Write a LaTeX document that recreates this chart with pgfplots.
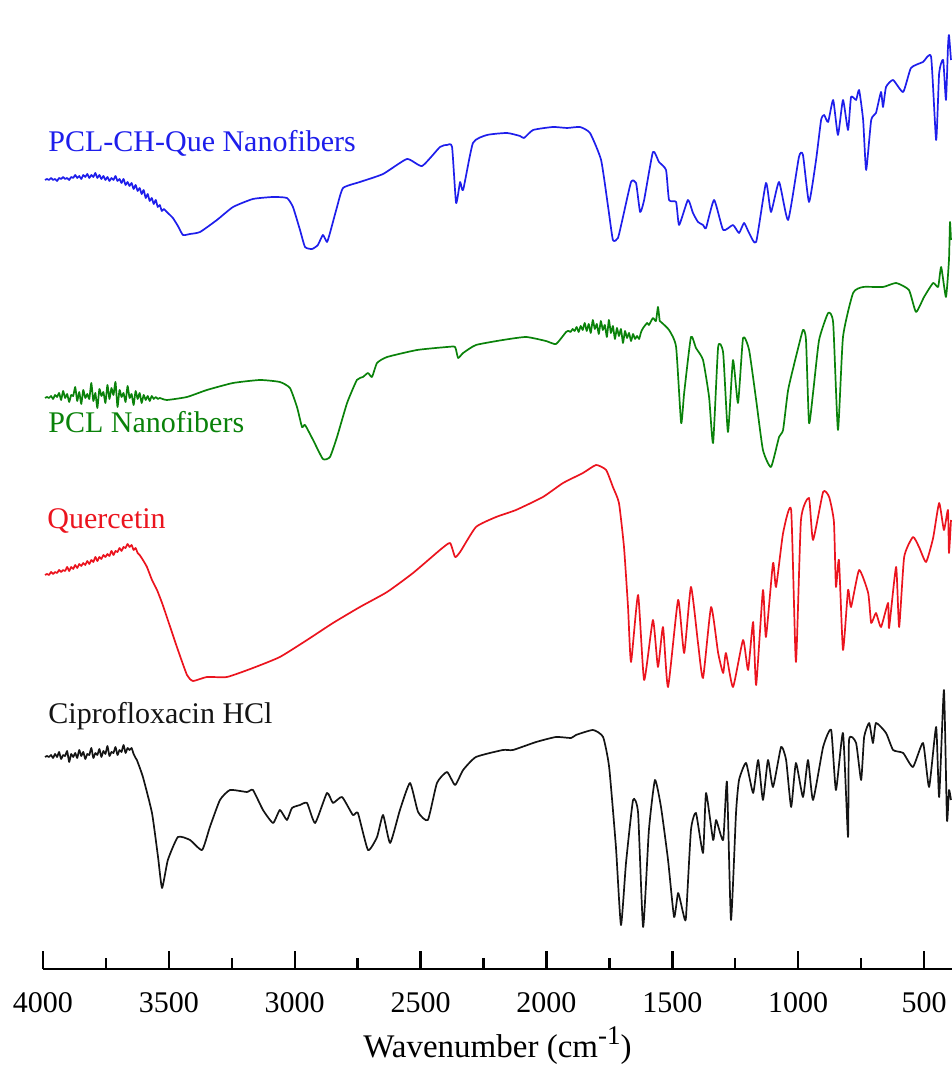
\documentclass[border=0pt]{standalone}
\usepackage{pgfplots}
\pgfplotsset{compat=1.18}
\usepackage{fontspec}
\setmainfont{Liberation Serif}

\definecolor{queC}{RGB}{30,30,235}
\definecolor{pclC}{RGB}{10,130,10}
\definecolor{querC}{RGB}{235,20,30}
\definecolor{cipC}{RGB}{20,20,20}

% FTIR spectra, stacked with vertical offsets (arbitrary transmittance units)
\pgfplotstableread{
w y
3992 789
3984 790
3976 789
3968 791
3960 789
3952 790
3944 788
3936 791
3928 790
3920 792
3912 790
3904 791
3896 789
3888 792
3880 791
3872 794
3864 791
3856 793
3848 790
3840 794
3832 792
3824 795
3816 791
3808 794
3800 792
3792 796
3784 791
3776 794
3768 790
3760 793
3752 789
3744 792
3736 788
3728 791
3720 789
3712 793
3704 788
3696 790
3688 786
3680 790
3672 784
3664 787
3656 783
3648 786
3640 780
3632 784
3624 778
3616 781
3608 775
3600 779
3592 771
3584 775
3576 768
3568 771
3560 765
3552 769
3544 762
3536 764
3528 758
3520 760
3508 757
3484 751
3464 743
3444 734
3416 735
3376 737
3309 749
3245 762
3166 770
3086 772
3031 771
3007 762
2979 739
2959 722
2931 720
2908 724
2888 734
2872 727
2860 736
2832 762
2808 781
2741 787
2649 795
2554 810
2494 803
2423 822
2395 824
2375 822
2359 766
2343 787
2331 779
2292 826
2236 834
2157 836
2105 833
2089 831
2053 839
1974 842
1918 841
1867 842
1827 836
1783 809
1755 762
1736 729
1716 731
1696 752
1664 787
1644 786
1628 757
1612 769
1577 817
1553 807
1525 799
1513 769
1485 767
1473 744
1438 769
1418 756
1398 747
1378 744
1366 741
1334 769
1298 739
1259 744
1235 736
1215 746
1195 736
1167 727
1128 786
1108 757
1076 787
1040 749
997 812
981 814
957 767
929 809
909 849
897 854
881 847
861 869
842 834
822 869
802 839
790 872
770 869
758 879
742 849
730 799
710 849
691 856
671 877
663 862
651 882
623 889
583 877
552 901
504 907
472 912
452 829
440 896
424 909
413 869
405 922
401 934
393 909
}\queTable

\pgfplotstableread{
w y
3992 571
3984 572
3976 571
3968 573
3960 570
3952 574
3944 572
3936 576
3928 569
3920 578
3912 571
3904 575
3896 567
3888 574
3880 573
3872 582
3864 568
3856 577
3848 565
3840 579
3832 571
3824 575
3816 570
3808 586
3800 568
3792 576
3784 561
3776 580
3768 573
3760 577
3752 566
3744 584
3736 570
3728 581
3720 574
3712 587
3704 562
3696 579
3688 572
3680 576
3672 567
3664 583
3656 571
3648 575
3640 564
3632 578
3624 570
3616 576
3608 566
3600 574
3592 569
3584 573
3576 568
3568 573
3560 570
3552 572
3544 570
3536 571
3508 569
3428 572
3349 579
3245 586
3138 589
3059 587
3019 581
2991 562
2971 542
2959 544
2927 529
2888 510
2860 512
2832 532
2792 566
2753 589
2729 592
2709 596
2693 592
2673 606
2633 612
2514 619
2395 622
2363 622
2351 611
2331 616
2280 624
2173 629
2081 632
2002 628
1962 625
1922 637
1912 638
1904 637
1896 640
1888 638
1880 642
1872 637
1864 643
1856 639
1848 646
1840 638
1832 645
1824 636
1816 649
1808 640
1800 645
1792 635
1784 648
1776 639
1768 644
1760 632
1752 649
1744 636
1736 643
1728 630
1720 641
1712 633
1704 640
1696 626
1688 638
1680 631
1672 636
1664 628
1656 635
1648 630
1640 633
1632 630
1624 637
1616 641
1600 646
1593 644
1577 651
1565 648
1557 662
1550 648
1545 647
1513 639
1485 622
1465 546
1453 576
1426 632
1406 621
1378 609
1354 572
1338 526
1318 622
1298 616
1279 537
1259 609
1239 566
1219 631
1195 619
1167 569
1140 519
1108 502
1076 532
1060 539
1040 579
1009 612
981 639
969 629
957 546
941 576
917 629
881 656
861 646
842 539
822 632
782 676
742 682
663 682
611 686
560 679
532 657
500 672
464 686
444 682
432 702
413 672
401 709
397 747
393 729
}\pclTable

\pgfplotstableread{
w y
3992 394
3984 395
3976 394
3968 397
3960 395
3952 397
3944 396
3936 399
3928 397
3920 399
3912 398
3904 402
3896 398
3888 402
3880 400
3872 404
3864 401
3856 405
3848 403
3840 406
3832 404
3824 408
3816 405
3808 409
3800 407
3792 412
3784 408
3776 412
3768 410
3760 414
3752 412
3744 415
3736 413
3728 418
3720 414
3712 418
3704 417
3696 421
3688 418
3680 422
3672 421
3664 425
3656 422
3648 424
3640 419
3632 421
3624 416
3616 414
3603 409
3587 402
3567 389
3547 379
3527 366
3508 352
3468 322
3428 294
3404 288
3349 292
3269 292
3166 301
3059 312
2951 329
2848 346
2741 362
2633 377
2530 396
2423 419
2383 426
2363 412
2343 417
2280 442
2200 452
2121 459
2014 472
1934 486
1855 496
1803 504
1763 499
1736 482
1712 466
1692 422
1676 362
1664 307
1636 374
1612 289
1577 349
1557 302
1537 342
1517 282
1477 369
1453 316
1426 382
1398 326
1378 291
1346 362
1318 316
1298 296
1287 316
1259 282
1219 329
1199 299
1179 347
1167 284
1140 379
1128 332
1100 406
1088 382
1060 436
1028 459
1009 307
989 449
957 471
941 429
901 477
877 472
858 447
850 382
838 409
822 319
802 379
790 362
758 399
722 376
710 346
691 356
671 342
643 366
639 341
611 402
599 342
579 412
544 432
520 422
492 407
464 431
440 466
421 439
405 459
401 416
393 449
}\querTable

\pgfplotstableread{
w y
3992 212
3984 213
3976 212
3968 214
3960 211
3952 215
3944 212
3936 217
3928 210
3920 214
3912 213
3904 218
3896 207
3888 215
3880 212
3872 216
3864 211
3856 219
3848 213
3840 217
3832 210
3824 215
3816 214
3808 221
3800 211
3792 216
3784 214
3776 220
3768 212
3760 218
3752 215
3744 223
3736 213
3728 217
3720 216
3712 222
3704 214
3696 219
3688 217
3680 224
3672 216
3664 221
3656 219
3648 221
3640 215
3632 211
3627 209
3603 192
3567 156
3543 112
3527 81
3504 109
3464 132
3416 129
3368 119
3337 142
3297 169
3257 179
3190 177
3166 179
3126 159
3086 146
3059 159
3031 149
3011 161
2979 164
2951 166
2919 146
2872 176
2848 166
2812 172
2769 154
2749 156
2709 119
2673 132
2649 154
2621 126
2582 159
2542 186
2510 157
2471 149
2435 186
2395 197
2363 184
2331 199
2280 212
2173 219
2133 219
2041 227
1962 232
1902 231
1883 234
1815 239
1775 232
1751 202
1724 122
1704 44
1684 106
1656 169
1636 156
1616 42
1593 139
1569 189
1545 162
1517 109
1493 52
1477 76
1457 56
1446 51
1426 139
1406 156
1378 116
1366 176
1338 129
1326 149
1298 129
1283 187
1267 49
1247 156
1235 189
1207 206
1179 176
1159 209
1140 169
1120 209
1100 182
1068 222
1048 209
1028 162
1009 206
981 172
961 209
941 169
901 222
869 239
850 179
822 236
802 132
798 229
770 226
750 189
738 232
718 246
703 226
691 246
651 236
623 219
583 216
544 202
504 226
480 182
452 242
440 172
421 279
409 149
401 179
393 169
}\cipTable

\begin{document}
\begin{tikzpicture}
\useasboundingbox (0,0) rectangle (476pt,535pt);
\begin{axis}[
  at={(21.5pt,50.5pt)}, anchor=south west,
  scale only axis, width=454.5pt, height=484.5pt,
  xmin=389, xmax=4000, ymin=0, ymax=969,
  x dir=reverse,
  axis x line=bottom, hide y axis,
  x axis line style={-, line width=1.3pt},
  xtick={500,1000,...,4000},
  minor xtick={750,1250,...,3750},
  tick align=inside,
  major tick length=9pt, minor tick length=5.5pt,
  every tick/.style={black, line width=1.2pt},
  /pgf/number format/assume math mode=true,
  /pgf/number format/1000 sep={},
  xticklabel style={font=\fontsize{15}{18}\selectfont, yshift=-8pt},
  xlabel={Wavenumber (cm\raisebox{7pt}{\fontsize{13.5}{15}\selectfont -1})},
  xlabel style={font=\fontsize{16.5}{20}\selectfont, at={(axis description cs:0.5,0)}, anchor=base, yshift=-44.5pt},
  clip=false,
  every axis plot/.append style={line width=0.85pt, line join=round, smooth, tension=0.3},
]
\addplot[queC]  table[x=w, y=y] {\queTable};
\addplot[pclC]  table[x=w, y=y] {\pclTable};
\addplot[querC] table[x=w, y=y] {\querTable};
\addplot[cipC]  table[x=w, y=y] {\cipTable};

\node[anchor=base west, inner sep=0pt, text=queC, font=\fontsize{15}{18}\selectfont] at (axis cs:3980,817) {PCL-CH-Que Nanofibers};
\node[anchor=base west, inner sep=0pt, text=pclC, font=\fontsize{15}{18}\selectfont] at (axis cs:3980,536) {PCL Nanofibers};
\node[anchor=base west, inner sep=0pt, text=querC, font=\fontsize{15}{18}\selectfont] at (axis cs:3984,440) {Quercetin};
\node[anchor=base west, inner sep=0pt, text=cipC, font=\fontsize{15}{18}\selectfont] at (axis cs:3980,245) {Ciprofloxacin HCl};
\end{axis}
\end{tikzpicture}
\end{document}
